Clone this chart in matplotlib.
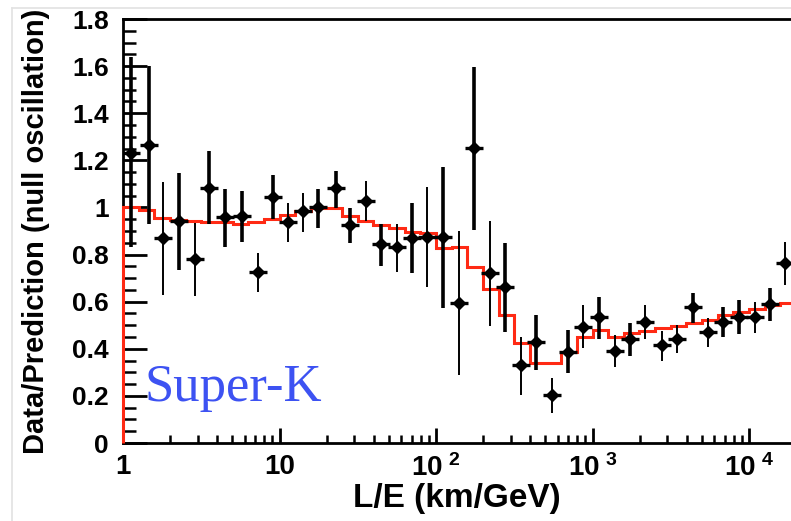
import matplotlib
matplotlib.use('Agg')
import matplotlib.pyplot as plt
import numpy as np
from matplotlib.lines import Line2D

# Super-K 大气中微子 L/E 分布 (数据/无振荡预期)
le = [1.12, 1.47, 1.81, 2.29, 2.88, 3.55, 4.49, 5.74, 7.25, 9.05,
      11.4, 14.1, 17.7, 22.9, 28.2, 35.5, 44.4, 56.2, 70.1, 88,
      111, 140, 176, 220, 278, 350, 438, 552, 702, 872,
      1104, 1389, 1747, 2166, 2763, 3448, 4392, 5480, 6838, 8628,
      10940, 13620, 17060]
ratio = [1.232, 1.265, 0.871, 0.942, 0.78, 1.084, 0.96, 0.963, 0.727, 1.045,
         0.94, 0.986, 1.0, 1.081, 0.925, 1.027, 0.843, 0.831, 0.871, 0.876,
         0.873, 0.595, 1.253, 0.72, 0.663, 0.331, 0.427, 0.204, 0.387, 0.494,
         0.534, 0.39, 0.44, 0.515, 0.416, 0.44, 0.576, 0.47, 0.515, 0.536,
         0.534, 0.59, 0.763]
ratio_hi = [1.64, 1.60, 1.11, 1.147, 0.935, 1.239, 1.08, 1.07, 0.808, 1.137,
            1.02, 1.062, 1.078, 1.155, 0.997, 1.112, 0.93, 0.93, 1.02, 1.088,
            1.173, 0.901, 1.597, 0.944, 0.85, 0.451, 0.543, 0.275, 0.48, 0.586,
            0.621, 0.458, 0.508, 0.586, 0.475, 0.50, 0.638, 0.529, 0.579, 0.607,
            0.60, 0.657, 0.852]
ratio_lo = [0.83, 0.93, 0.63, 0.734, 0.624, 0.93, 0.83, 0.854, 0.642, 0.95,
            0.854, 0.897, 0.914, 0.996, 0.849, 0.942, 0.751, 0.727, 0.72, 0.661,
            0.572, 0.289, 0.904, 0.497, 0.472, 0.204, 0.31, 0.126, 0.296, 0.402,
            0.44, 0.324, 0.369, 0.44, 0.349, 0.381, 0.508, 0.409, 0.449, 0.461,
            0.468, 0.519, 0.671]

# 振荡预期 (直方图)
bin_edges = [1, 1.26, 1.58, 2.0, 2.51, 3.16, 3.98, 5.01, 6.31, 7.94,
             10, 12.6, 15.8, 20.0, 25.1, 31.6, 39.8, 50.1, 63.1, 79.4,
             100, 126, 158, 200, 251, 316, 398, 501, 631, 794,
             1000, 1259, 1585, 1995, 2512, 3162, 3981, 5012, 6310, 7943,
             10000, 12589, 15849, 19953]
pred = [1.0, 0.99, 0.955, 0.947, 0.942, 0.937, 0.937, 0.93, 0.937, 0.951,
        0.968, 0.986, 0.996, 0.996, 0.963, 0.943, 0.925, 0.911, 0.894, 0.89,
        0.826, 0.833, 0.748, 0.652, 0.543, 0.426, 0.338, 0.338, 0.388, 0.451,
        0.48, 0.451, 0.466, 0.476, 0.487, 0.496, 0.511, 0.521, 0.543, 0.557,
        0.567, 0.586, 0.593]

xtick_vals = [1, 10, 100, 1000, 10000]
xtick_labels = ['1', '10', r'$\mathbf{10^{\ 2}}$', r'$\mathbf{10^{\ 3}}$', r'$\mathbf{10^{\ 4}}$']
ytick_vals = [0, 0.2, 0.4, 0.6, 0.8, 1.0, 1.2, 1.4, 1.6, 1.8]
ytick_labels = ['0', '0.2', '0.4', '0.6', '0.8', '1', '1.2', '1.4', '1.6', '1.8']

# 粗/细误差棒 (两种样本交替)
thick = [1, 1, 0, 1, 0, 1, 1, 1, 0, 1, 0, 0, 1, 1, 1, 0, 1, 0, 1, 0,
         1, 0, 1, 0, 1, 0, 1, 0, 1, 0, 1, 0, 1, 0, 0, 0, 1, 0, 1, 1,
         0, 1, 0]

plt.rcParams['font.family'] = ['Liberation Sans', 'DejaVu Sans']
plt.rcParams['font.weight'] = 'bold'
plt.rcParams['mathtext.fontset'] = 'custom'
plt.rcParams['mathtext.rm'] = 'Liberation Sans:bold'
plt.rcParams['mathtext.bf'] = 'Liberation Sans:bold'

fig = plt.figure(figsize=(7.91, 5.21), dpi=100)
ax = fig.add_axes([0.1555, 0.1497, 0.8445, 0.8138])

ax.stairs(pred, bin_edges, baseline=0, color='#ff2a14', lw=2.2, zorder=3, clip_on=False)

le_a = np.array(le)
r_a = np.array(ratio)
yerr = [r_a - np.array(ratio_lo), np.array(ratio_hi) - r_a]
for i in range(len(le)):
    lw = 2.6 if thick[i] else 1.4
    ax.errorbar(le[i], ratio[i], yerr=[[yerr[0][i]], [yerr[1][i]]], fmt='none',
                ecolor='black', elinewidth=lw, capsize=0, zorder=4)
ax.plot(le_a, r_a, ls='none', marker='_', ms=12.5, mew=2.4, color='black', zorder=5)
ax.plot(le_a, r_a, ls='none', marker='D', ms=6.3, color='black', zorder=5)

ax.set_xscale('log')
ax.set_xlim(1, 18550)
ax.set_ylim(0, 1.8)

ax.set_xticks(xtick_vals)
ax.set_xticklabels(xtick_labels, fontsize=20, fontweight='bold')
ax.set_yticks(ytick_vals)
ax.set_yticklabels(ytick_labels, fontsize=19, fontweight='bold')
ax.yaxis.set_minor_locator(matplotlib.ticker.MultipleLocator(0.05))
ax.xaxis.set_minor_locator(matplotlib.ticker.LogLocator(base=10, subs=np.arange(2, 10)))
ax.xaxis.set_minor_formatter(matplotlib.ticker.NullFormatter())

ax.tick_params(axis='y', which='major', direction='in', length=17, width=2, pad=10)
ax.tick_params(axis='y', which='minor', direction='in', length=9, width=1.8)
ax.tick_params(axis='x', which='major', direction='in', length=11, width=2, pad=8)
ax.tick_params(axis='x', which='minor', direction='in', length=6, width=1.8)

ax.spines['right'].set_visible(False)
for s in ['left', 'bottom', 'top']:
    ax.spines[s].set_linewidth(2)

ax.set_xlabel('L/E (km/GeV)', fontsize=24, fontweight='bold', labelpad=1)
ax.set_ylabel('Data/Prediction (null oscillation)', fontsize=21, fontweight='bold', labelpad=16)

ax.text(1.38, 0.18, 'Super-K', family='Liberation Serif', fontweight='normal',
        fontsize=38, color='#3d52f2', va='baseline', ha='left', zorder=6)

# 外框淡灰线
fig.add_artist(Line2D([12 / 791, 1], [1 - 8 / 521, 1 - 8 / 521], color='#e2e2e2', lw=1.2))
fig.add_artist(Line2D([12 / 791, 12 / 791], [0, 1 - 8 / 521], color='#e2e2e2', lw=1.2))

plt.savefig('out.png', dpi=100)
